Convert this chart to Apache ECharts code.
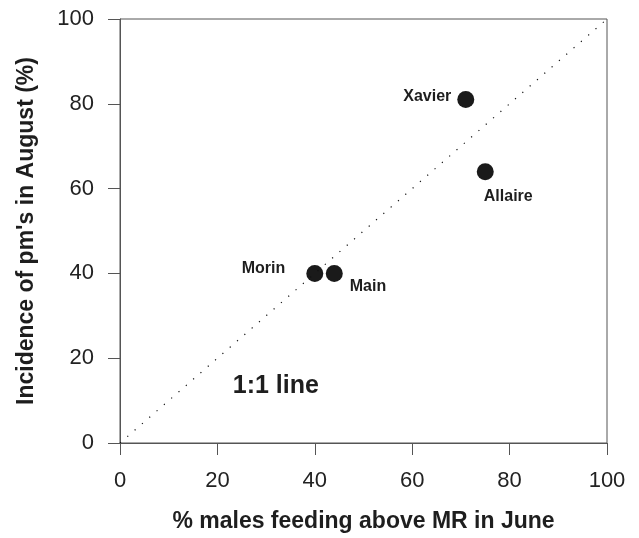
<!DOCTYPE html>
<html><head><meta charset="utf-8">
<script src="https://cdn.jsdelivr.net/npm/echarts@6/dist/echarts.min.js"></script>
<style>html,body{margin:0;padding:0;background:#fff}#c{width:639px;height:538px}</style>
</head><body><div id="c"></div>
<script>
var sites = ['Xavier', 'Allaire', 'Morin', 'Main'];
var malesAboveMR = [71, 75, 40, 44];
var incidencePM = [81, 64, 40, 40];
var oneToOne = [[0, 0], [100, 100]];
var xTicks = [0, 20, 40, 60, 80, 100];
var yTicks = [0, 20, 40, 60, 80, 100];
var annotationText = '1:1 line';
var annotationAt = [32, 13.3];

var FONT = 'Liberation Sans, Arial, sans-serif';
var labelCfg = {
  Xavier: {position: 'left', distance: 6, offset: [0, -3]},
  Allaire: {position: 'bottom', distance: 5, offset: [23, 3]},
  Morin: {position: 'left', distance: 5, offset: [-16, -5]},
  Main: {position: 'right', distance: 5, offset: [2, 13]}
};

var pts = sites.map(function (s, i) {
  var c = labelCfg[s];
  return {
    value: [malesAboveMR[i], incidencePM[i]],
    name: s,
    label: Object.assign({show: true, formatter: s, fontSize: 16, fontWeight: 'bold',
      color: '#1e1e1e', fontFamily: FONT}, c)
  };
});

var chart = echarts.init(document.getElementById('c'));
var axisFont = {fontSize: 22, color: '#222', fontFamily: FONT};
var titleFont = {fontSize: 23, fontWeight: 'bold', color: '#1e1e1e', fontFamily: FONT};
chart.setOption({
  animation: false,
  grid: {left: 120, right: 32, top: 19, bottom: 93, show: true, borderColor: '#555', borderWidth: 1},
  xAxis: {
    type: 'value', min: 0, max: 100, interval: 20,
    name: '% males feeding above MR in June', nameLocation: 'middle', nameGap: 67,
    nameTextStyle: titleFont,
    axisLine: {show: true, lineStyle: {color: '#555'}},
    axisTick: {show: true, length: 12, inside: false, lineStyle: {color: '#555'}},
    axisLabel: Object.assign({margin: 27, formatter: function (v) { return xTicks.indexOf(v) >= 0 ? String(v) : ''; }}, axisFont),
    splitLine: {show: false}
  },
  yAxis: {
    type: 'value', min: 0, max: 100, interval: 20,
    name: "Incidence of pm's in August (%)", nameLocation: 'middle', nameGap: 82,
    nameTextStyle: titleFont,
    axisLine: {show: true, lineStyle: {color: '#555'}},
    axisTick: {show: true, length: 12, inside: false, lineStyle: {color: '#555'}},
    axisLabel: Object.assign({margin: 26, formatter: function (v) { return yTicks.indexOf(v) >= 0 ? String(v) : ''; }}, axisFont),
    splitLine: {show: false}
  },
  series: [
    {
      type: 'line', data: oneToOne, symbol: 'none', silent: true,
      lineStyle: {color: '#111', width: 1.2, type: [1.2, 8.5]}
    },
    {
      type: 'scatter', data: pts, symbol: 'circle', symbolSize: 17,
      itemStyle: {color: '#1a1a1a', opacity: 1}
    },
    {
      type: 'scatter', data: [annotationAt], symbol: 'circle', symbolSize: 1, silent: true,
      itemStyle: {color: 'rgba(0,0,0,0)', opacity: 1},
      label: {show: true, position: 'inside', formatter: annotationText, fontSize: 25, fontWeight: 'bold',
        color: '#1e1e1e', opacity: 1, fontFamily: FONT}
    }
  ]
});
</script></body></html>
